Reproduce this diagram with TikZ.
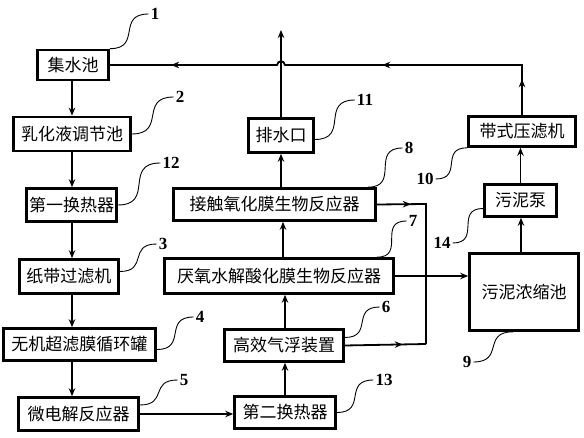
\documentclass[tikz,border=0pt]{standalone}
\usepackage{fontspec}
\setmainfont{Liberation Serif}
\newfontfamily\cjk{Noto Sans CJK SC}
\usetikzlibrary{arrows.meta,decorations.markings}
\begin{document}
\begin{tikzpicture}[x=1pt,y=-1pt,
  box/.style={draw, line width=2.6pt, inner sep=0pt, font=\cjk\fontsize{17}{17}\selectfont},
  num/.style={inner sep=0pt, font=\bfseries\fontsize{17}{17}\selectfont},
  conn/.style={line width=1.8pt},
  arr/.style={conn, -{Stealth[length=8pt,width=6.5pt]}},
  lead/.style={line width=0.9pt, out=0, in=180, looseness=1.6},
  marr/.style={postaction={decorate}, decoration={markings, mark=at position #1 with {\arrow{Stealth[length=8pt,width=6.5pt]}}}}
]
\useasboundingbox (0,0) rectangle (584,438);
% left column
\node[box, minimum width=71, minimum height=30] (n1) at (73,65) {集水池};
\node[box, minimum width=117, minimum height=34] (n2) at (72,134) {乳化液调节池};
\node[box, minimum width=90, minimum height=33] (n12) at (71.5,205) {第一换热器};
\node[box, minimum width=99, minimum height=34] (n3) at (69,276.5) {纸带过滤机};
\node[box, minimum width=152, minimum height=32] (n4) at (79.5,344.5) {无机超滤膜循环罐};
\node[box, minimum width=120, minimum height=33] (n5) at (78.5,414) {微电解反应器};
% middle column
\node[box, minimum width=65, minimum height=34] (n11) at (281,135.5) {排水口};
\node[box, minimum width=202, minimum height=32] (n8) at (274.5,204.5) {接触氧化膜生物反应器};
\node[box, minimum width=229, minimum height=35] (n7) at (279,276) {厌氧水解酸化膜生物反应器};
\node[box, minimum width=119, minimum height=32] (n6) at (284,345.5) {高效气浮装置};
\node[box, minimum width=101, minimum height=32] (n13) at (285,412.5) {第二换热器};
% right column
\node[box, minimum width=109, minimum height=77] (n9) at (524,292) {污泥浓缩池};
\node[box, minimum width=72, minimum height=32] (n14) at (520.5,200.5) {污泥泵};
\node[box, minimum width=107, minimum height=30] (n10) at (522,131.5) {带式压滤机};

% helper coordinates
\coordinate (LX) at (72,0);
\coordinate (RX1) at (285,0);
\coordinate (RX2) at (283,0);
\coordinate (RX3) at (281,0);
\coordinate (SX1) at (521,0);
\coordinate (SX2) at (520.5,0);
\coordinate (TOP) at (281,30);
\coordinate (TR) at (522,65);
\coordinate (HR) at (285,65);
\coordinate (HL) at (277,65);
\coordinate (J1) at (426,204);
\coordinate (J2) at (426,344);

% left column flow
\draw[arr] (n1.south -| LX) -- (n2.north -| LX);
\draw[arr] (n2.south -| LX) -- (n12.north -| LX);
\draw[arr] (n12.south -| LX) -- (n3.north -| LX);
\draw[arr] (n3.south -| LX) -- (n4.north -| LX);
\draw[arr] (n4.south -| LX) -- (n5.north -| LX);
\draw[arr] (n5.east) -- (n5.east -| n13.west);
% middle column flow
\draw[arr] (n13.north -| RX1) -- (n6.south -| RX1);
\draw[arr] (n6.north -| RX1) -- (n7.south -| RX1);
\draw[arr] (n7.north -| RX2) -- (n8.south -| RX2);
\draw[arr] (n8.north -| RX3) -- (n11.south -| RX3);
\draw[arr] (n11.north) -- (TOP);
% to sludge
\draw[conn, marr=34pt] (n8.east) -- (J1) -- (J2);
\draw[conn, marr=58pt] (n6.east) -- (J2);
\draw[arr] (n7.east) -- (n7.east -| n9.west);
% sludge path
\draw[arr] (n9.north -| SX1) -- (n14.south -| SX1);
\draw[arr] (n14.north -| SX2) -- (n10.south -| SX2);
\draw[conn, postaction={decorate}, decoration={markings,
    mark=at position 36pt with {\arrow{Stealth[length=8pt,width=6.5pt]}},
    mark=at position 190pt with {\arrow{Stealth[length=8pt,width=6.5pt]}},
    mark=at position 405pt with {\arrow{Stealth[length=8pt,width=6.5pt]}}}]
  (n10.north) -- (TR) -- (HR) .. controls (284,60) and (278,60) .. (HL) -- (n1.east);

% number labels
\node[num] (l1) at (155,14) {1};
\node[num] (l2) at (180,97) {2};
\node[num] (l12) at (171,163) {12};
\node[num] (l3) at (163,244) {3};
\node[num] (l4) at (200,317) {4};
\node[num] (l5) at (184,380) {5};
\node[num] (l11) at (365,100) {11};
\node[num] (l8) at (409,148) {8};
\node[num] (l7) at (413,221) {7};
\node[num] (l6) at (386,307) {6};
\node[num] (l13) at (384,380) {13};
\node[num] (l10) at (425,179) {10};
\node[num] (l14) at (442,243) {14};
\node[num] (l9) at (467,362) {9};

% leader curves
\draw[lead] (n1.north east) to ([xshift=-2pt]l1.west);
\draw[lead] (n2.east) to ([xshift=-2pt]l2.west);
\draw[lead] (n12.east) to ([xshift=-2pt]l12.west);
\draw[lead] ([yshift=5pt]n3.east) to ([xshift=-2pt]l3.west);
\draw[lead] ([yshift=-5pt]n4.east) to ([xshift=-2pt]l4.west);
\draw[lead] ([yshift=9pt]n5.east) to ([xshift=-2pt]l5.west);
\draw[lead] ([yshift=-4pt]n11.east) to ([xshift=-2pt]l11.west);
\draw[lead] ([xshift=-9pt]n8.north east) to ([xshift=-2pt]l8.west);
\draw[lead] ([xshift=-18pt]n7.north east) to ([xshift=-2pt]l7.west);
\draw[lead] ([yshift=8pt]n6.east) to ([xshift=-2pt]l6.west);
\draw[lead] (n13.east) to ([xshift=-2pt]l13.west);
\draw[lead] ([xshift=2pt]l10.east) to (n10.south west);
\draw[lead] ([xshift=2pt]l14.east) to ([yshift=-8pt]n14.west);
\draw[lead] ([xshift=2pt]l9.east) to ([xshift=-11pt]n9.south);
\end{tikzpicture}
\end{document}
